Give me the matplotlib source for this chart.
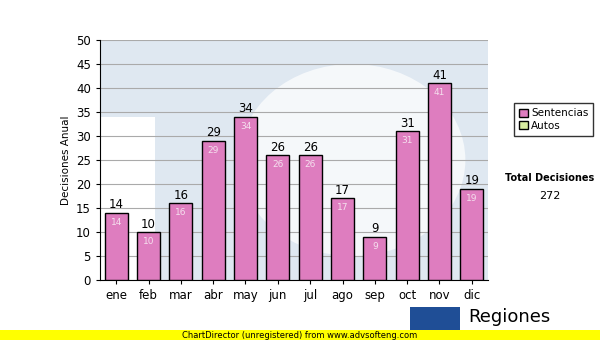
import matplotlib.pyplot as plt
from matplotlib.patches import Rectangle, Patch, Ellipse

meses = ['ene', 'feb', 'mar', 'abr', 'may', 'jun', 'jul', 'ago', 'sep', 'oct', 'nov', 'dic']
sentencias = [14, 10, 16, 29, 34, 26, 26, 17, 9, 31, 41, 19]
autos = [0, 0, 0, 0, 0, 0, 0, 0, 0, 0, 0, 0]
total = 272

fig = plt.figure(figsize=(6, 3.4), dpi=100)
ax = fig.add_axes([100 / 600, 60 / 340, 388 / 600, 240 / 340])
ax.set_facecolor('#dfe8f1')

# white watermark shapes behind bars
ax.add_patch(Rectangle((-0.5, 0), 1.7, 34, facecolor='white', edgecolor='none', zorder=0))
ax.add_patch(Ellipse((7.3, 25), 7.0, 40, facecolor='white', edgecolor='none', zorder=0, alpha=0.7))

x = range(len(meses))
ax.bar(x, sentencias, width=0.72, color='#de7dbf', edgecolor='black', linewidth=1, zorder=3)
for xi, v in zip(x, sentencias):
    ax.text(xi, v + 0.3, str(v), ha='center', va='bottom', fontsize=8.5, zorder=4)
    ax.text(xi, v - 1.0, str(v), ha='center', va='top', fontsize=6.5, color='#f5e0ee', zorder=4)

ax.set_xlim(-0.5, 11.5)
ax.set_ylim(0, 50)
ax.set_yticks(range(0, 51, 5))
ax.set_xticks(list(x))
ax.set_xticklabels(meses)
ax.tick_params(labelsize=8.5, length=3)
ax.yaxis.grid(True, color='#aaaaaa', linewidth=0.8, zorder=1)
ax.set_axisbelow(True)
for s in ['top', 'right']:
    ax.spines[s].set_visible(False)
ax.set_ylabel('Decisiones Anual', fontsize=7.5)

handles = [Patch(facecolor='#de7dbf', edgecolor='black', label='Sentencias'),
           Patch(facecolor='#d8eca0', edgecolor='black', label='Autos')]
fig.legend(handles=handles, loc='upper left', bbox_to_anchor=(509 / 600, 1 - 98 / 340),
           fontsize=7.5, frameon=True, fancybox=False, edgecolor='black',
           handlelength=0.8, handleheight=0.8, handletextpad=0.3, borderpad=0.5, labelspacing=0.2)

fig.text(550 / 600, 1 - 178 / 340, 'Total Decisiones', ha='center', va='center', fontsize=7, fontweight='bold')
fig.text(550 / 600, 1 - 196 / 340, str(total), ha='center', va='center', fontsize=8)

# footer
fig.patches.append(Rectangle((0, 0), 1, 10 / 340, transform=fig.transFigure, facecolor='#ffff00',
                             edgecolor='none'))
fig.text(300 / 600, 5 / 340, 'ChartDirector (unregistered) from www.advsofteng.com',
         ha='center', va='center', fontsize=6)
fig.patches.append(Rectangle((410 / 600, 10 / 340), 50 / 600, 23 / 340, transform=fig.transFigure,
                             facecolor='#1f4e96', edgecolor='none'))
fig.text(468 / 600, 23 / 340, 'Regiones', ha='left', va='center', fontsize=13)

fig.savefig('out.png', dpi=100)
